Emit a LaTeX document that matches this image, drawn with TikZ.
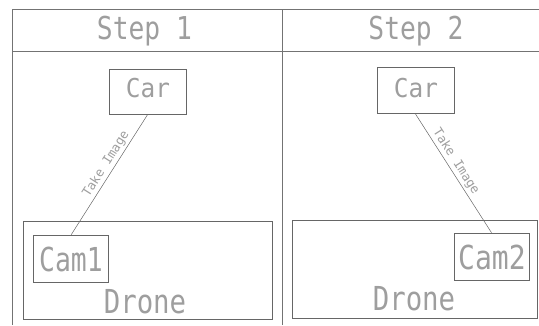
\documentclass[tikz,border=0pt]{standalone}
\usepackage{graphicx}
\usepackage{fontspec}
\newfontfamily\cadfont{DejaVu Sans Mono}
\newcommand\cadtext[3]{\scalebox{#2}[1]{\fontsize{#1}{#1}\selectfont #3}}
\begin{document}
\begin{tikzpicture}[x=1pt,y=1pt,
  frame/.style={draw=black!55, line width=0.6pt},
  box/.style={draw=black!60, line width=0.6pt, rectangle, inner sep=0pt},
  lbl/.style={text=black!38, font=\cadfont\mdseries, inner sep=0pt, anchor=base},
  linklbl/.style={text=black!38, font=\cadfont\fontsize{12.5}{12.5}\selectfont, inner sep=0pt},
  link/.style={draw=black!60, line width=0.5pt}]
\useasboundingbox (0,0) rectangle (539,325);
% table frame
\coordinate (tl) at (12.7,316);
\coordinate (tr) at (539,316);
\coordinate (hl) at (12.7,274);
\coordinate (hr) at (539,274);
\coordinate (bl) at (12.7,0);
\coordinate (dt) at (282,316);
\coordinate (db) at (282,0);
\draw[frame] (tl) -- (tr);
\draw[frame] (hl) -- (hr);
\draw[frame] (tl) -- (bl);
\draw[frame] (dt) -- (db);
% headers
\node[lbl] (s1) at (144.5,286) {\cadtext{31.5}{0.835}{Step 1}};
\node[lbl] (s2) at (416,286) {\cadtext{31.5}{0.835}{Step 2}};
% step 1
\node[box, minimum width=76.7pt, minimum height=45pt] (car1) at (147.6,233.2) {};
\node[lbl] (car1t) at (148,228) {\cadtext{26}{0.94}{Car}};
\node[box, minimum width=249pt, minimum height=98pt] (drone1) at (147.5,55) {};
\node[lbl] (drone1t) at (145,12) {\cadtext{33}{0.83}{Drone}};
\node[box, minimum width=75pt, minimum height=47pt] (cam1) at (71.2,66.5) {};
\node[lbl] (cam1t) at (71,54) {\cadtext{33}{0.8}{Cam1}};
\draw[link] (cam1.north) -- node[pos=0.55, sloped, above=2pt, linklbl] {Take Image} (car1.south);
% step 2
\node[box, minimum width=77pt, minimum height=46pt] (car2) at (415.5,234.3) {};
\node[lbl] (car2t) at (416,228) {\cadtext{26}{0.94}{Car}};
\node[box, minimum width=245pt, minimum height=98pt] (drone2) at (414.5,56) {};
\node[lbl] (drone2t) at (414,15) {\cadtext{33}{0.83}{Drone}};
\node[box, minimum width=75pt, minimum height=47pt] (cam2) at (491.5,68.5) {};
\node[lbl] (cam2t) at (492,56) {\cadtext{33}{0.85}{Cam2}};
\draw[link] (car2.south) -- node[pos=0.44, sloped, above=2pt, linklbl] {Take Image} (cam2.north);
\end{tikzpicture}
\end{document}
